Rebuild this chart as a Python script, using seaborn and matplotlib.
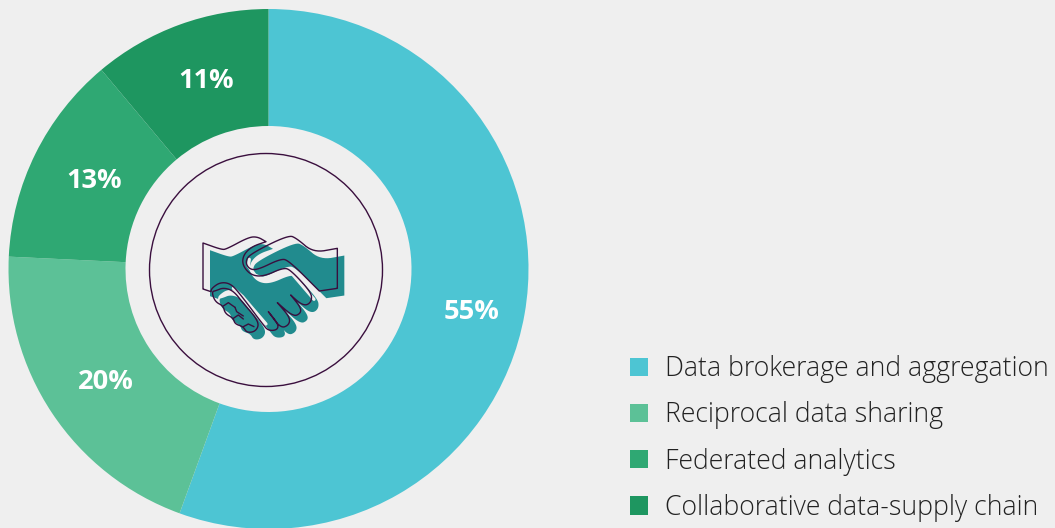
import numpy as np
import matplotlib
matplotlib.use("Agg")
import matplotlib.pyplot as plt
from matplotlib.patches import Circle, Polygon
import seaborn as sns

# chart data
categories = ['Data brokerage and aggregation', 'Reciprocal data sharing',
              'Federated analytics', 'Collaborative data-supply chain']
shares = [55, 20, 13, 11]
colours = ['#4DC5D3', '#5CC197', '#2FA873', '#1E9660']
label_pos = [(472, 312), (106, 382), (94, 181), (206, 81)]

BG = '#EFEFEF'
TEAL = '#218B8E'
INK = '#3A0F3E'
H = 528

sns.set_theme(style='white', rc={'figure.facecolor': BG, 'axes.facecolor': BG})
plt.rcParams['font.family'] = ['Open Sans', 'DejaVu Sans']

fig = plt.figure(figsize=(10.55, 5.28), dpi=100)
ax = fig.add_axes([0, 0, 1, 1])

# donut
wedges, _ = ax.pie(shares, colors=sns.color_palette(colours), startangle=90, counterclock=False,
                   center=(268.5, H - 269), radius=260, frame=True,
                   wedgeprops={'width': 117, 'linewidth': 0})
ax.set_xlim(0, 1055)
ax.set_ylim(0, H)
ax.set_aspect('equal')
ax.axis('off')

for v, (x, y) in zip(shares, label_pos):
    ax.text(x, H - y, f'{v}%', color='white', fontsize=19.6, fontweight='bold', ha='center', va='center')

# inner ring
ax.add_patch(Circle((266, H - 270), 116.5, fill=False, ec=INK, lw=1.0))


# handshake icon, points traced in px from the top left of the image
def smooth(pts, n=3):
    p = np.array(pts, dtype=float)
    for _ in range(n):
        q = np.roll(p, -1, axis=0)
        p = np.column_stack([0.75 * p + 0.25 * q, 0.25 * p + 0.75 * q]).reshape(-1, 2)
    return p


def icon_xy(pts, dx=0, dy=0):
    p = np.array(pts, dtype=float)
    return np.column_stack([180 + p[:, 0] / 3 + dx, H - (220 + p[:, 1] / 3 + dy)])


def sharp_ends(pts):
    # repeat corners so that the cuff keeps its square ends after smoothing
    out = []
    for x, y, hard in pts:
        out.append((x, y))
        if hard:
            out += [(x, y), (x, y)]
    return out


left_hand = [(69, 69, 1), (125, 89, 0), (140, 87, 0), (205, 52, 0), (232, 50, 0), (258, 65, 1),
             (215, 80, 0), (190, 105, 0), (187, 135, 0), (212, 165, 0), (250, 170, 0), (310, 143, 0),
             (332, 150, 0), (392, 215, 0), (396, 240, 0), (382, 256, 0), (362, 252, 0), (332, 225, 1),
             (362, 262, 0), (362, 280, 0), (340, 290, 0), (292, 248, 1), (330, 292, 0), (327, 315, 0),
             (302, 325, 0), (265, 275, 1), (295, 312, 0), (292, 330, 0), (265, 332, 0), (250, 315, 0),
             (175, 215, 0), (150, 190, 0), (120, 187, 0), (95, 205, 0), (93, 215, 1), (69, 207, 1)]
right_hand = [(472, 85, 1), (400, 98, 0), (350, 55, 0), (325, 45, 0), (210, 102, 0), (196, 125, 0),
              (207, 147, 0), (232, 150, 0), (300, 117, 0), (325, 120, 0), (418, 213, 1), (472, 205, 1)]
knuckles = [(95, 215, 0), (105, 245, 0), (130, 258, 0), (135, 280, 0), (160, 295, 0), (165, 312, 0),
            (190, 320, 0), (200, 338, 0), (225, 335, 0), (237, 315, 0), (225, 290, 0), (190, 250, 0),
            (160, 212, 0), (130, 203, 0), (108, 212, 0)]
knuckle_lines = [[(130, 258), (145, 248), (165, 262)], [(160, 295), (175, 285), (190, 297)],
                 [(190, 320), (205, 312), (222, 320)], [(165, 262), (170, 275), (190, 288)]]
# light strips left open inside the teal
strips = [[(208, 118), (205, 138), (225, 165), (252, 178), (312, 150), (335, 160), (402, 238)],
          [(160, 205), (188, 230), (215, 262), (258, 312)]]

shift = (7, 7.2)
for shape in (left_hand, right_hand, knuckles):
    ax.add_patch(Polygon(icon_xy(smooth(sharp_ends(shape)), *shift), closed=True, fc=TEAL, ec='none', zorder=3))
for seg in strips:
    xy = icon_xy(seg)
    ax.plot(xy[:, 0], xy[:, 1], color=BG, lw=2.3, solid_capstyle='round', solid_joinstyle='round', zorder=4)
for shape in (left_hand, right_hand, knuckles):
    ax.add_patch(Polygon(icon_xy(smooth(sharp_ends(shape))), closed=True, fill=False, ec=INK, lw=1.0, zorder=5,
                         joinstyle='round'))
for seg in knuckle_lines:
    xy = icon_xy(seg)
    ax.plot(xy[:, 0], xy[:, 1], color=INK, lw=1.0, zorder=5)

# legend
ax.legend(wedges, categories, loc='upper left', bbox_to_anchor=(630, H - 355), bbox_transform=ax.transData,
          frameon=False, prop={'family': 'Open Sans', 'weight': 'light', 'size': 19.2}, labelcolor='#222222',
          handlelength=0.67, handleheight=0.67,
          handletextpad=0.63, labelspacing=0.685, borderpad=0, borderaxespad=0)

fig.savefig('out.png', dpi=100, facecolor=BG)
